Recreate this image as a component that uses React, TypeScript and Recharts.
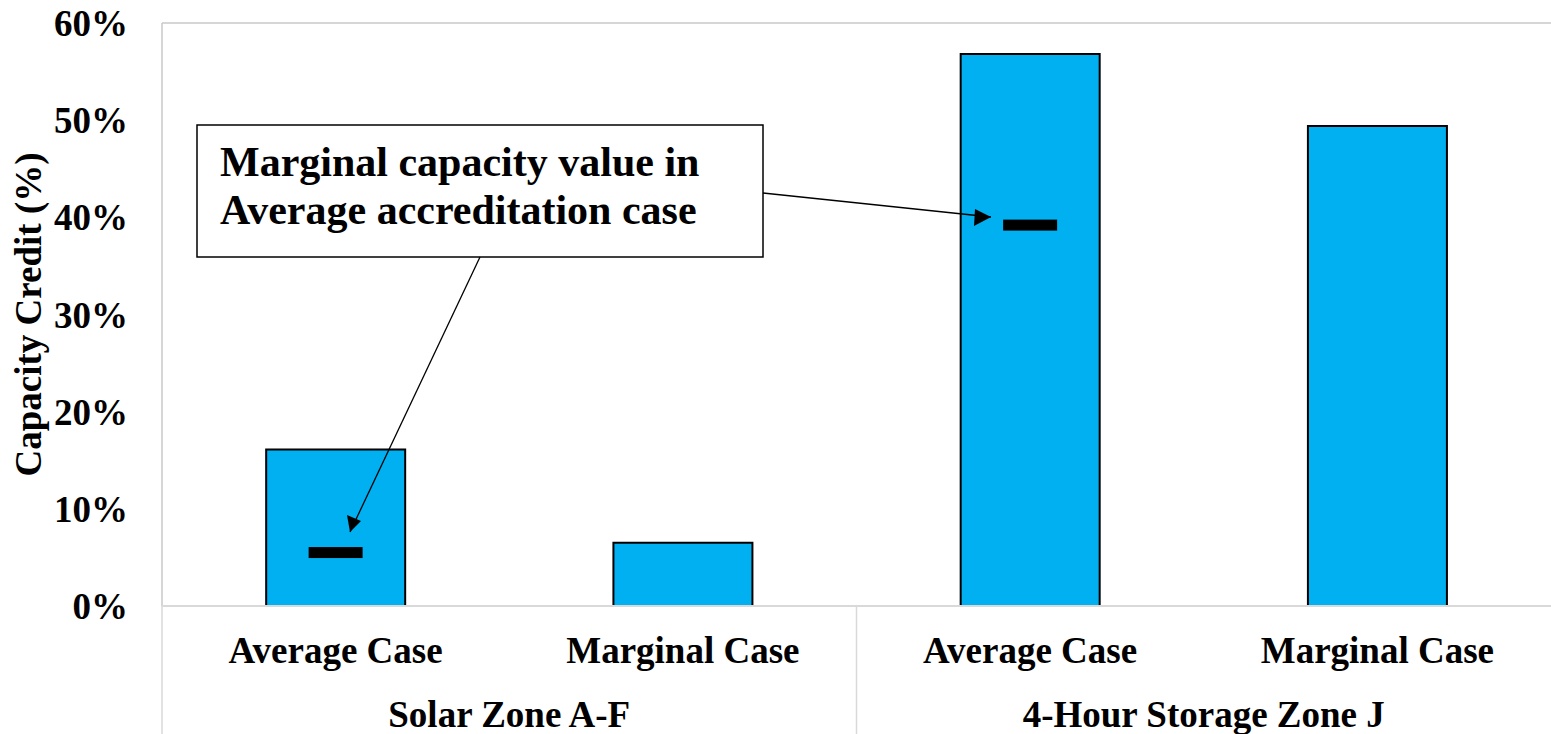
import React from 'react';
import { ComposedChart, Bar, Scatter, XAxis, YAxis, ReferenceLine } from 'recharts';

// page has an 8px default margin; the chart fills the whole window
document.body.style.margin = '0';

const cases = ['Average Case', 'Marginal Case', 'Average Case', 'Marginal Case'];
const groups = ['Solar Zone A-F', 'Solar Zone A-F', '4-Hour Storage Zone J', '4-Hour Storage Zone J'];
const credit = [16.1, 6.5, 56.8, 49.4];
const marginalInAverage = [5.5, null, 39.2, null];
const yTicks = [0, 10, 20, 30, 40, 50, 60];
const noteLines = ['Marginal capacity value in', 'Average accreditation case'];

const FONT = '"Liberation Serif", "Times New Roman", serif';
const GRID = '#D9D9D9';

const chartData = cases.map((c, i) => ({
  caseLabel: c,
  group: groups[i],
  credit: credit[i],
  marker: marginalInAverage[i],
}));

const tickStyle = { fill: '#000', fontSize: 37, fontWeight: 'bold', fontFamily: FONT };

const GroupTick = (props: any) => {
  const { x, y, payload } = props;
  const half = payload && payload.offset ? payload.offset : 347;
  const axisTop = y - 31;
  return (
    <g>
      <line x1={x - half} x2={x - half} y1={axisTop - 64} y2={axisTop + 64} stroke={GRID} strokeWidth={1.5} />
      <text x={x} y={y} dy="0.71em" textAnchor="middle" {...tickStyle}>
        {payload.value}
      </text>
    </g>
  );
};

const MarkerShape = (props: any) => {
  const { cx, cy, payload } = props;
  if (!payload || payload.marker == null) return <g />;
  return <rect x={cx - 27} y={cy - 5.5} width={54} height={11} fill="#000" />;
};

const YLabel = (props: any) => {
  const vb = props.viewBox || { x: 0, y: 0, width: 0, height: 0 };
  const cx = vb.x + 28;
  const cy = vb.y + vb.height / 2;
  return (
    <text
      x={cx}
      y={cy}
      transform={`rotate(-90, ${cx}, ${cy})`}
      textAnchor="middle"
      dominantBaseline="central"
      {...tickStyle}
    >
      Capacity Credit (%)
    </text>
  );
};

const Annotation = () => (
  <svg
    width={1551}
    height={734}
    style={{ position: 'absolute', left: 0, top: 0, pointerEvents: 'none' }}
  >
    <rect x={197} y={125} width={566} height={132} fill="#fff" stroke="#000" strokeWidth={1.5} />
    {noteLines.map((t, i) => (
      <text key={t} x={220} y={176 + i * 48} fill="#000" fontSize={42} fontWeight="bold" fontFamily={FONT}>
        {t}
      </text>
    ))}
    <line x1={480} y1={257} x2={350} y2={532} stroke="#000" strokeWidth={1.3} />
    <path d="M350,532 L347,515 L361,521 z" fill="#000" />
    <line x1={763} y1={193} x2={991} y2={217} stroke="#000" strokeWidth={1.3} />
    <path d="M991,217 L975,209 L974,226 z" fill="#000" />
  </svg>
);

const App: React.FC = () => {
  return (
    <div style={{ position: 'relative', width: 1551, height: 734, background: '#fff' }}>
      <ComposedChart
        width={1551}
        height={734}
        data={chartData}
        margin={{ top: 23, right: 0, left: 0, bottom: 0 }}
        barCategoryGap="30%"
      >
        <YAxis
          domain={[0, 60]}
          ticks={yTicks}
          width={162}
          tickFormatter={(v: number) => `${v}%`}
          tickLine={false}
          tickSize={0}
          tickMargin={34}
          axisLine={{ stroke: '#C8C8C8', strokeWidth: 1.5 }}
          tick={tickStyle}
          label={<YLabel />}
        />
        <XAxis
          dataKey="caseLabel"
          height={64}
          tickLine={false}
          tickSize={0}
          tickMargin={31}
          axisLine={{ stroke: GRID, strokeWidth: 2 }}
          tick={tickStyle}
          interval={0}
        />
        <XAxis
          xAxisId="group"
          dataKey="group"
          allowDuplicatedCategory={false}
          height={64}
          tickLine={false}
          tickSize={0}
          tickMargin={31}
          axisLine={false}
          tick={<GroupTick />}
          interval={0}
        />
        <ReferenceLine y={60} stroke="#C8C8C8" strokeWidth={1.5} />
        <Bar dataKey="credit" fill="#00B0F0" stroke="#000" strokeWidth={2} isAnimationActive={false} />
        <Scatter dataKey="marker" shape={<MarkerShape />} isAnimationActive={false} />
      </ComposedChart>
      <Annotation />
    </div>
  );
};

export default App;
